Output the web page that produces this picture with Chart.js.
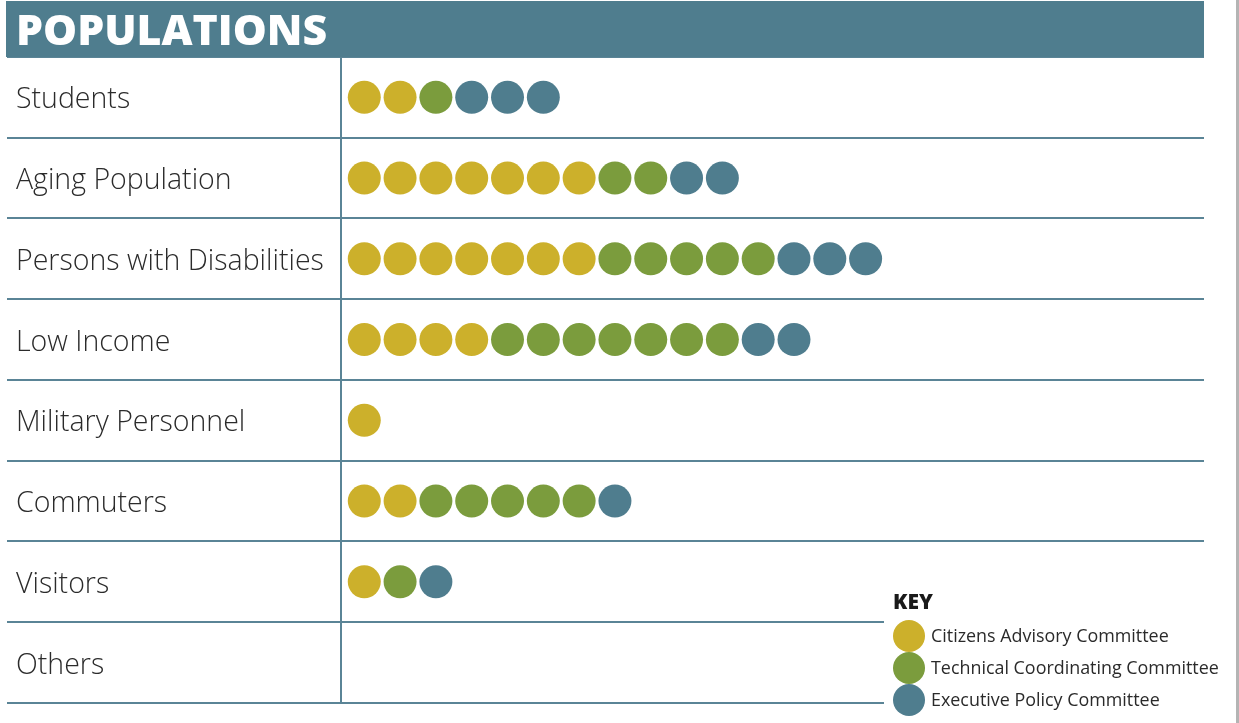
<!DOCTYPE html>
<html>
<head>
<meta charset="utf-8">
<script src="https://cdn.jsdelivr.net/npm/chart.js@4.4.1/dist/chart.umd.min.js"></script>
<style>
  body { margin:0; background:#fff; width:1239px; height:723px; overflow:hidden; position:relative; font-family:'Open Sans', sans-serif; }
  #header { position:absolute; left:6px; top:1px; width:1198px; height:56px; background:#4f7d8e; }
  #header span { position:absolute; left:10px; top:-2px; color:#fff; font-weight:800; font-size:42.8px; }
  #key { position:absolute; left:884px; top:584px; width:320px; height:139px; background:#fff; }
  #key .ttl { position:absolute; left:9px; top:3px; font-weight:800; font-size:21px; color:#1a1a1a; }
  .row { position:absolute; left:9px; height:32px; }
  .row i { position:absolute; left:0; top:0; width:32px; height:32px; border-radius:50%; }
  .row b { position:absolute; left:38px; top:3px; font-weight:400; font-size:17.9px; color:#2a2a2a; white-space:nowrap; }
  #edge { position:absolute; left:1236px; top:0; width:3px; height:723px; background:#b4b4b4; }
</style>
</head>
<body>
<canvas id="dots" width="1239" height="723" style="position:absolute;left:0;top:0"></canvas>
<div id="header"><span>POPULATIONS</span></div>
<div id="key"><div class="ttl">KEY</div></div>
<div id="edge"></div>
<script>
var categories = ['Students','Aging Population','Persons with Disabilities','Low Income','Military Personnel','Commuters','Visitors','Others'];
var committees = ['Citizens Advisory Committee','Technical Coordinating Committee','Executive Policy Committee'];
var citizensAdvisory = [2,7,7,4,1,2,1,0];
var technicalCoordinating = [1,2,5,7,0,5,1,0];
var executivePolicy = [3,2,3,2,0,1,1,0];
var colors = ['#ccb02b','#7b9c3d','#4f7d8e'];

var counts = [citizensAdvisory, technicalCoordinating, executivePolicy];
var lineColor = '#5a8496';

// one point per dot, laid out in order along each row
var datasets = committees.map(function(name, s) {
  var pts = [];
  categories.forEach(function(cat, c) {
    var start = 0;
    for (var p = 0; p < s; p++) start += counts[p][c];
    for (var k = 1; k <= counts[s][c]; k++) pts.push({x: start + k, y: cat});
  });
  return {label: name, data: pts, backgroundColor: colors[s], borderWidth: 0, pointRadius: 16.5, pointHoverRadius: 16.5};
});

// key
var key = document.getElementById('key');
committees.forEach(function(name, s) {
  var r = document.createElement('div');
  r.className = 'row';
  r.style.top = (36 + s * 32) + 'px';
  r.innerHTML = '<i style="background:' + colors[s] + '"></i><b>' + name + '</b>';
  key.appendChild(r);
});

var ctx = document.getElementById('dots').getContext('2d');
var chart = new Chart(ctx, {
  type: 'scatter',
  data: { datasets: datasets },
  options: {
    responsive: false,
    animation: false,
    layout: { padding: { top: 57, bottom: 20, left: 16, right: 35 } },
    plugins: { legend: { display: false }, tooltip: { enabled: false } },
    scales: {
      x: { type: 'linear', display: false, min: 0.35, max: 24.45 },
      y: {
        type: 'category',
        labels: categories,
        offset: true,
        afterFit: function(scale) { scale.width = 325; },
        grid: { offset: true, color: lineColor, lineWidth: 2, tickLength: 334, drawTicks: true },
        border: { display: true, color: lineColor, width: 2 },
        ticks: { crossAlign: 'far', labelOffset: 3, color: '#2b2b2b', font: { family: 'Open Sans', size: 28.5, weight: 300 } }
      }
    }
  }
});
</script>
</body>
</html>
